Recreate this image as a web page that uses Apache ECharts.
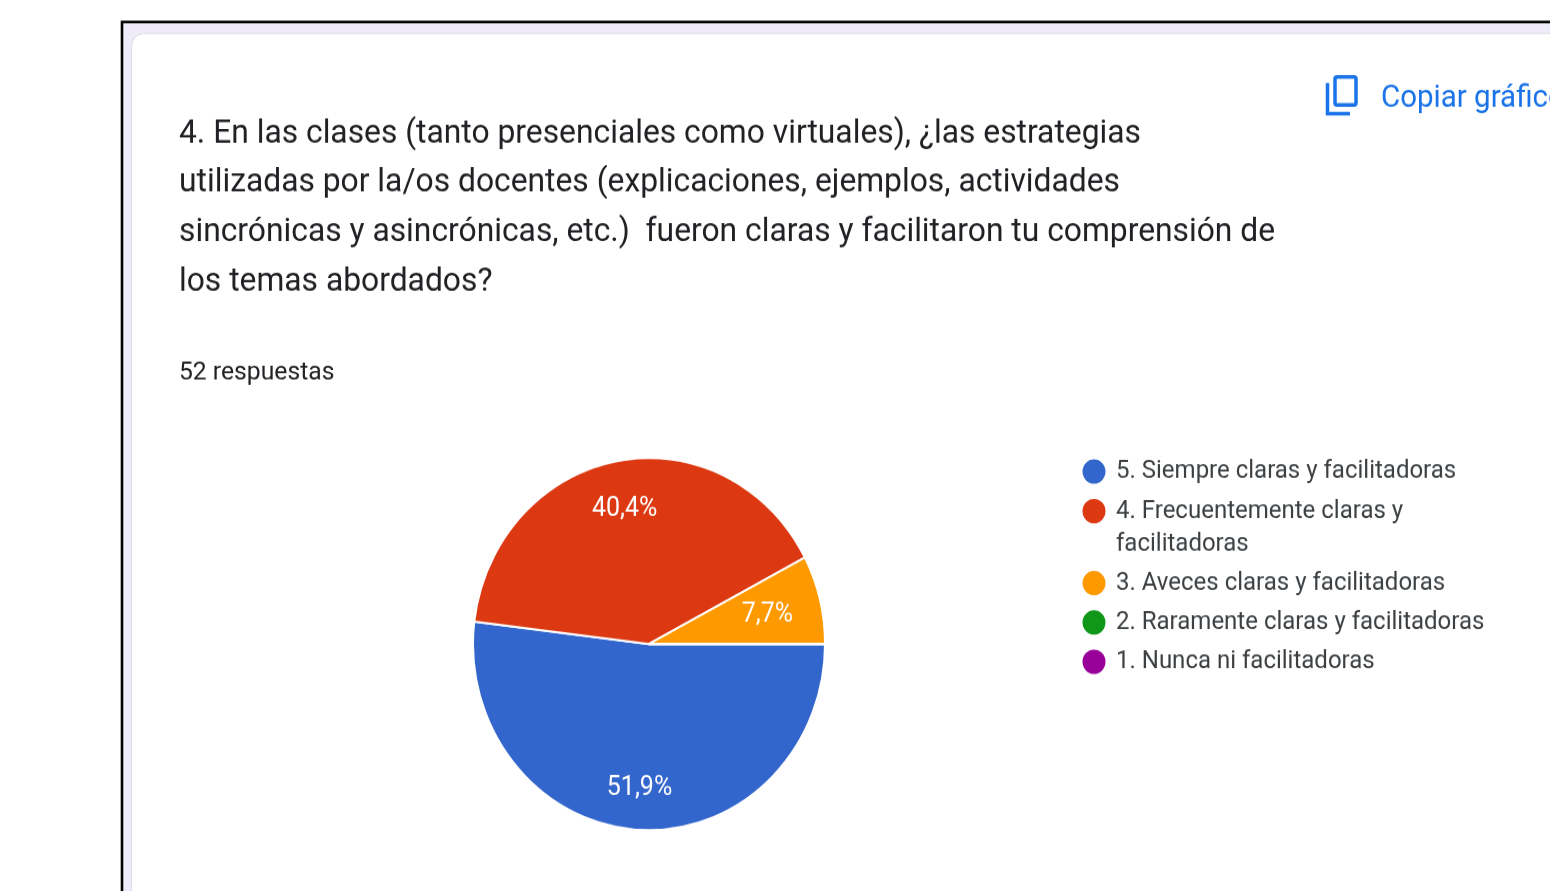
<!doctype html>
<html lang="es">
<head>
<meta charset="utf-8">
<script src="https://cdn.jsdelivr.net/npm/echarts@6/dist/echarts.min.js"></script>
<style>
    html { overflow: hidden; }
    body { margin: 0; padding: 0; background: #fff; height: 891px; }
    /* la captura original esta estirada en vertical */
    #main { width: 1550px; height: 843px; transform: scaleY(1.0571); transform-origin: 0 0; }
</style>
</head>
<body>
<div id="main"></div>
<script type="text/javascript">
    var titleLines = [
        '4. En las clases (tanto presenciales como virtuales), ¿las estrategias',
        'utilizadas por la/os docentes (explicaciones, ejemplos, actividades',
        'sincrónicas y asincrónicas, etc.)  fueron claras y facilitaron tu comprensión de',
        'los temas abordados?'
    ];
    var subtitle = '52 respuestas';
    var copyLabel = 'Copiar gráfico';
    var categories = [
        '5. Siempre claras y facilitadoras',
        '4. Frecuentemente claras y facilitadoras',
        '3. Aveces claras y facilitadoras',
        '2. Raramente claras y facilitadoras',
        '1. Nunca ni facilitadoras'
    ];
    var counts = [27, 21, 4, 0, 0];
    var colors = ['#3366cc', '#dc3912', '#ff9900', '#109618', '#990099'];
    // corrimiento de las etiquetas desde el centro del anillo
    var labelOffsets = [[-4, 46], [-8, -37.5], [30, -6], [0, 0], [0, 0]];

    var fontName = 'Roboto';
    var legendFont = { fontFamily: fontName, fontSize: 24, lineHeight: 24, color: '#3c4043', padding: [2, 0, 0, 4.5] };

    var pieData = [];
    for (var i = 0; i < categories.length; i++) {
        pieData.push({
            name: categories[i],
            value: counts[i],
            itemStyle: { color: colors[i] },
            label: { offset: labelOffsets[i] }
        });
    }

    var myChart = echarts.init(document.getElementById('main'), null, { renderer: 'canvas' });
    myChart.setOption({
        animation: false,
        backgroundColor: '#fff',
        title: [{
            text: titleLines.join('\n'),
            left: 179,
            top: 103.3,
            padding: 0,
            textStyle: { fontFamily: fontName, fontSize: 31.8, fontWeight: 400, color: '#202124', lineHeight: 46.75 }
        }, {
            text: subtitle,
            left: 179,
            top: 339,
            padding: 0,
            textStyle: { fontFamily: fontName, fontSize: 24.7, fontWeight: 400, color: '#202124', lineHeight: 28 }
        }],
        legend: [{
            // fila simple
            orient: 'vertical', left: 1080.5, top: 432.6, padding: 0,
            icon: 'circle', itemWidth: 25, itemHeight: 25,
            data: [categories[0]],
            textStyle: legendFont
        }, {
            // dos lineas: la linea vacia deja el punto alineado con la primera
            orient: 'vertical', left: 1080.5, top: 435.7, padding: 0,
            icon: 'circle', itemWidth: 25, itemHeight: 25,
            data: [categories[1]],
            formatter: function () { return '\n4. Frecuentemente claras y\nfacilitadoras'; },
            textStyle: Object.assign({}, legendFont, { lineHeight: 31.2 })
        }, {
            orient: 'vertical', left: 1080.5, top: 538.1, padding: 0, itemGap: 10.2,
            icon: 'circle', itemWidth: 25, itemHeight: 25,
            data: categories.slice(2),
            textStyle: legendFont
        }],
        graphic: [
            { type: 'rect', z: -10, shape: { x: 122, y: 20.8, width: 1500, height: 950 },
              style: { fill: '#f0ebf8', stroke: '#000', lineWidth: 2.6 } },
            { type: 'rect', z: -9, shape: { x: 131.5, y: 31.7, width: 1500, height: 950, r: 12 },
              style: { fill: '#fff', stroke: '#dadce0', lineWidth: 1 } },
            { type: 'polyline', z: 5, shape: { points: [[1327.5, 78.5], [1327.5, 107.4], [1350, 107.4]] },
              style: { fill: 'none', stroke: '#1a73e8', lineWidth: 3.5 } },
            { type: 'rect', z: 5, shape: { x: 1335, y: 72.8, width: 21, height: 26.5, r: 2 },
              style: { fill: 'none', stroke: '#1a73e8', lineWidth: 3.5 } },
            { type: 'text', z: 5, x: 1381, y: 93.6,
              style: { text: copyLabel, fontFamily: fontName, fontSize: 29.5, fontWeight: 400, fill: '#1a73e8', verticalAlign: 'middle' } }
        ],
        series: [{
            type: 'pie',
            center: [649, 609.2],
            radius: 176,
            startAngle: 0,
            clockwise: true,
            avoidLabelOverlap: false,
            silent: true,
            itemStyle: { borderColor: '#fff', borderWidth: 2 },
            label: {
                show: true,
                position: 'inside',
                fontFamily: fontName,
                fontSize: 25,
                color: '#fff',
                formatter: function (p) {
                    if (p.value === 0) return '';
                    return p.percent.toFixed(1).replace('.', ',') + '%';
                }
            },
            labelLine: { show: false },
            data: pieData
        }]
    });
</script>
</body>
</html>
